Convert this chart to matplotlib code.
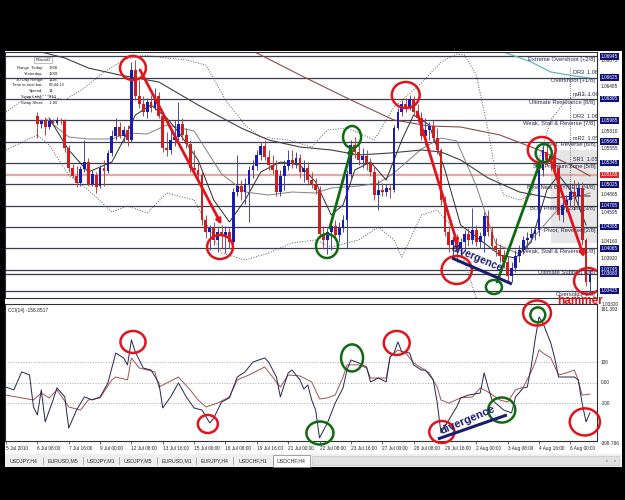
import matplotlib
matplotlib.use("Agg")
import matplotlib.pyplot as plt
import matplotlib.transforms as mtrans
from matplotlib.patches import Ellipse, Rectangle
import numpy as np

plt.rcParams["font.family"] = ["Liberation Sans", "DejaVu Sans"]

W, H = 625, 500


def fxy(x, y):
    """pixel (top-left origin) -> figure fraction"""
    return x / W, 1 - y / H


# ── H4 candles, USDCHF, bars 8..149 (bar 0 = 5 Jul 2010 00:00) ──────────
bar_idx = list(range(8, 150))
opens = [
    1.0605, 1.0593, 1.05975, 1.05885, 1.05975, 1.05945, 1.0599, 1.05975, 1.0557, 1.0527,
    1.0515, 1.05045, 1.05255, 1.0536, 1.0503, 1.05165, 1.0500, 1.0527, 1.05225, 1.05495,
    1.0575, 1.05885, 1.0575, 1.0584, 1.0569, 1.0674, 1.0635, 1.0623, 1.0611, 1.0626,
    1.0617, 1.0635, 1.0605, 1.0557, 1.0554, 1.0569, 1.05735, 1.0593, 1.05765, 1.0563,
    1.0527, 1.0524, 1.05165, 1.0449, 1.0431, 1.0437, 1.0419, 1.0431, 1.0425, 1.0431,
    1.0416, 1.0491, 1.0500, 1.0491, 1.0503, 1.0524, 1.0530, 1.05465, 1.0560, 1.05435,
    1.05315, 1.0524, 1.0491, 1.0515, 1.0530, 1.0539, 1.05345, 1.0542, 1.0521, 1.0527,
    1.0509, 1.0503, 1.0494, 1.0428, 1.0419, 1.0431, 1.0440, 1.04265, 1.0437, 1.0449,
    1.0518, 1.05615, 1.0551, 1.0539, 1.0545, 1.05345, 1.0521, 1.04865, 1.0494, 1.0491,
    1.0497, 1.0494, 1.0587, 1.0611, 1.0623, 1.0617, 1.06305, 1.0611, 1.0602, 1.0575,
    1.0584, 1.0590, 1.0572, 1.0554, 1.0479, 1.0431, 1.04115, 1.0419, 1.0407, 1.0416,
    1.0428, 1.0419, 1.0434, 1.0416, 1.0425, 1.0455, 1.0431, 1.0410, 1.0404, 1.0395,
    1.0386, 1.0365, 1.0377, 1.0395, 1.0404, 1.0419, 1.0422, 1.0428, 1.0434, 1.0524,
    1.0551, 1.0539, 1.0545, 1.0527, 1.04565, 1.04715, 1.0479, 1.0491, 1.0485, 1.0497,
    1.0419, 1.0356,
]
highs = [
    1.0611, 1.06005, 1.0602, 1.0602, 1.06005, 1.06035, 1.0602, 1.06005, 1.05615, 1.0533,
    1.0530, 1.0530, 1.0569, 1.0542, 1.0524, 1.0521, 1.05315, 1.0539, 1.0554, 1.0584,
    1.0602, 1.0596, 1.0590, 1.05915, 1.0686, 1.0689, 1.0659, 1.0635, 1.0632, 1.06365,
    1.0647, 1.0641, 1.0611, 1.0581, 1.0587, 1.0599, 1.0626, 1.0602, 1.0587, 1.0569,
    1.0554, 1.05345, 1.0521, 1.04565, 1.04415, 1.0446, 1.0437, 1.04415, 1.0440, 1.0437,
    1.0497, 1.05465, 1.0509, 1.0512, 1.0530, 1.0539, 1.0554, 1.0566, 1.0569, 1.0554,
    1.05465, 1.0539, 1.0524, 1.0539, 1.0554, 1.0554, 1.0551, 1.0548, 1.0539, 1.0536,
    1.0521, 1.0512, 1.0500, 1.0440, 1.0437, 1.0443, 1.0449, 1.0446, 1.04565, 1.0524,
    1.0569, 1.05735, 1.05615, 1.0557, 1.0554, 1.0542, 1.0530, 1.0509, 1.05045, 1.0503,
    1.05015, 1.05915, 1.0617, 1.0629, 1.0632, 1.06365, 1.0635, 1.0623, 1.0611, 1.0602,
    1.0596, 1.0599, 1.0587, 1.0557, 1.0485, 1.0440, 1.0425, 1.0428, 1.0422, 1.0434,
    1.0437, 1.0467, 1.04415, 1.0431, 1.0461, 1.0464, 1.0440, 1.0422, 1.0413, 1.0404,
    1.0395, 1.0386, 1.0404, 1.04115, 1.0425, 1.0431, 1.0437, 1.0440, 1.05315, 1.05615,
    1.05645, 1.0554, 1.0554, 1.05315, 1.0479, 1.04865, 1.05015, 1.0509, 1.0506, 1.0506,
    1.0422, 1.0374,
]
lows = [
    1.0572, 1.0587, 1.05765, 1.05855, 1.05915, 1.05915, 1.0593, 1.0551, 1.0521, 1.0512,
    1.04985, 1.0500, 1.0521, 1.0500, 1.0500, 1.04895, 1.0497, 1.0500, 1.05195, 1.0545,
    1.0569, 1.0572, 1.0566, 1.0560, 1.0566, 1.0629, 1.0617, 1.0605, 1.0602, 1.0611,
    1.0614, 1.0602, 1.0551, 1.0545, 1.0548, 1.0560, 1.0569, 1.0569, 1.0557, 1.0521,
    1.05165, 1.0509, 1.04415, 1.0422, 1.0404, 1.04115, 1.0401, 1.0407, 1.03995, 1.0407,
    1.0413, 1.0485, 1.0479, 1.0473, 1.0446, 1.0512, 1.0524, 1.0539, 1.0539, 1.0524,
    1.0518, 1.0485, 1.0485, 1.0494, 1.0524, 1.0527, 1.0527, 1.0512, 1.0506, 1.05015,
    1.0497, 1.0488, 1.0422, 1.0407, 1.0398, 1.0404, 1.0419, 1.0416, 1.0431, 1.0407,
    1.0512, 1.0542, 1.05315, 1.0527, 1.0524, 1.0515, 1.0479, 1.0464, 1.0485, 1.0485,
    1.0482, 1.0491, 1.0584, 1.0605, 1.0611, 1.0614, 1.0605, 1.0596, 1.0569, 1.05615,
    1.0569, 1.0566, 1.0548, 1.04715, 1.0425, 1.0401, 1.0392, 1.0386, 1.0395, 1.0404,
    1.0410, 1.0413, 1.0410, 1.0407, 1.0401, 1.0425, 1.0404, 1.0395, 1.0386, 1.0377,
    1.0356, 1.0356, 1.0371, 1.0386, 1.0398, 1.0407, 1.0416, 1.0419, 1.0425, 1.0515,
    1.05315, 1.0524, 1.0521, 1.0449, 1.0446, 1.0461, 1.0470, 1.0464, 1.04715, 1.04115,
    1.0350, 1.0341,
]
closes = [
    1.0593, 1.05975, 1.05885, 1.05975, 1.05945, 1.0599, 1.05975, 1.0557, 1.0527, 1.0515,
    1.05045, 1.05255, 1.0536, 1.0503, 1.0518, 1.04985, 1.0527, 1.05225, 1.05495, 1.0575,
    1.05885, 1.0575, 1.0584, 1.0569, 1.0674, 1.0635, 1.0623, 1.0611, 1.0626, 1.0617,
    1.0635, 1.0605, 1.0557, 1.0554, 1.0569, 1.05735, 1.0593, 1.05765, 1.0563, 1.0527,
    1.0524, 1.05165, 1.0449, 1.0431, 1.0437, 1.0419, 1.0431, 1.0425, 1.0431, 1.0416,
    1.0491, 1.0500, 1.0491, 1.0503, 1.0524, 1.0530, 1.05465, 1.0560, 1.05435, 1.05315,
    1.0524, 1.0491, 1.0515, 1.0530, 1.0539, 1.05345, 1.0542, 1.0521, 1.0527, 1.0509,
    1.0503, 1.0494, 1.0428, 1.0419, 1.0431, 1.0440, 1.04265, 1.0437, 1.0449, 1.0518,
    1.05615, 1.0551, 1.0539, 1.0545, 1.05345, 1.0521, 1.04865, 1.0494, 1.0491, 1.0497,
    1.0494, 1.0587, 1.0611, 1.0623, 1.0617, 1.06305, 1.0611, 1.0602, 1.0575, 1.0584,
    1.0590, 1.0572, 1.0554, 1.0479, 1.0431, 1.04115, 1.0419, 1.0407, 1.0416, 1.0428,
    1.0419, 1.0434, 1.0416, 1.0425, 1.0455, 1.0431, 1.0410, 1.0404, 1.0395, 1.0386,
    1.0365, 1.0377, 1.0395, 1.0404, 1.0419, 1.0422, 1.0428, 1.0434, 1.0524, 1.0554,
    1.0539, 1.0545, 1.0527, 1.04565, 1.04715, 1.0479, 1.0491, 1.0485, 1.0497, 1.0419,
    1.0356, 1.0368,
]

# ── indicator lines (bar, price) ──────────────────────────────────────────
bb_up_bars = [0, 5, 10, 15, 20, 25, 30, 35, 41, 46, 51, 56, 61, 65, 72, 78, 82, 87, 94, 99,
              106, 111, 115, 117, 120, 123, 125, 127, 131, 134, 136, 139, 143, 146, 149]
bb_up = [1.0611, 1.0632, 1.06365, 1.0629, 1.0647, 1.0671, 1.0689, 1.06965, 1.0692, 1.0689,
         1.06815, 1.0629, 1.05915, 1.05735, 1.0569, 1.05585, 1.0584, 1.0587, 1.0569, 1.06185,
         1.06545, 1.0686, 1.0698, 1.06965, 1.06665, 1.0584, 1.05165, 1.04865, 1.0479, 1.04865,
         1.0539, 1.0599, 1.0629, 1.06365, 1.06365]
bb_lo_bars = [0, 8, 11, 16, 21, 27, 31, 36, 41, 48, 55, 61, 67, 73, 79, 83, 90, 95, 99, 101,
              106, 110, 114, 117, 120, 123, 128, 133, 138, 143, 149]
bb_lo = [1.0554, 1.05765, 1.05615, 1.05165, 1.0494, 1.0461, 1.0470, 1.04595, 1.04895, 1.0479,
         1.03995, 1.0389, 1.03995, 1.04145, 1.0419, 1.04085, 1.0419, 1.04385, 1.0419, 1.03935,
         1.04565, 1.0464, 1.0437, 1.0386, 1.0332, 1.03065, 1.0314, 1.0329, 1.03215, 1.0329,
         1.0341]
bb_mid_bars = [10, 16, 21, 27, 31, 36, 41, 48, 55, 61, 67, 73, 79, 83, 90, 95, 99, 106, 111,
               115, 120, 125, 131, 136, 143, 149]
bb_mid = [1.0602, 1.05735, 1.05705, 1.05705, 1.05795, 1.0578, 1.05915, 1.05825, 1.0518,
          1.0491, 1.04865, 1.0491, 1.04895, 1.0497, 1.0500, 1.05045, 1.05195, 1.05555, 1.0572,
          1.05675, 1.0500, 1.0413, 1.0398, 1.04325, 1.0479, 1.04895]
ma_fast_bars = [11, 16, 21, 27, 30, 33, 37, 41, 44, 49, 53, 57, 61, 65, 70, 75, 79, 83, 86,
                89, 93, 97, 101, 104, 108, 112, 116, 121, 126, 130, 134, 138, 141, 145, 148]
ma_fast = [1.0602, 1.0554, 1.0521, 1.0536, 1.0569, 1.06065, 1.06215, 1.0602, 1.0581, 1.0539,
           1.0479, 1.0446, 1.0479, 1.0521, 1.0536, 1.05315, 1.0506, 1.04565, 1.04715, 1.0524,
           1.0536, 1.0509, 1.0569, 1.06065, 1.05915, 1.0524, 1.04415, 1.0419, 1.03965, 1.0392,
           1.0416, 1.0494, 1.05165, 1.04865, 1.04415]
ma_slow_bars = [9, 15, 21, 29, 39, 49, 60, 67, 75, 83, 90, 98, 106, 111, 116, 123, 131, 139,
                145, 149]
ma_slow = [1.0701, 1.0692, 1.0677, 1.06665, 1.0656, 1.06215, 1.0587, 1.0569, 1.05585, 1.0554,
           1.05465, 1.05495, 1.0554, 1.0551, 1.0539, 1.0512, 1.0491, 1.0482, 1.0485, 1.0485]
ma_long_bars = [49, 64, 75, 88, 99, 108, 116, 126, 136, 144, 149]
ma_long = [1.0734, 1.06995, 1.06665, 1.0629, 1.0599, 1.0590, 1.05885, 1.05765, 1.0554,
           1.05315, 1.0515]
teal_bars = [121, 127, 134, 139, 145, 149]
teal_vals = [1.0719, 1.0701, 1.0686, 1.0671, 1.0665, 1.0662]

# ── Murrey math levels / pivots ───────────────────────────────────────────
mm_levels = [1.03425, 1.03745, 1.04065, 1.04385, 1.04705, 1.05025, 1.05345, 1.05665,
             1.05985, 1.06305, 1.06625, 1.06945]
mm_names = ["Oversold [-1/8]", "Ultimate Support [0/8]", "Weak, Stall & Reverse [1/8]",
            "Pivot, Reverse [2/8]", "BUY Premium Zone [3/8]", "Best New BUY/SELL [4/8]",
            "Sell Premium Zone [5/8]", "Pivot, Reverse [6/8]", "Weak, Stall & Reverse [7/8]",
            "Ultimate Resistance [8/8]", "Overshoot [+1/8]", "Extreme Overshoot [+2/8]"]
pink_level = 1.05165
extra_level = 1.0368
pivot_names = ["DR3", "mR3", "DR2", "mR2", "SR1"]
pivot_vals = ["1.06", "1.06", "1.06", "1.05", "1.05"]
pivot_prices = [1.06695, 1.06365, 1.06035, 1.0572, 1.0539]
plain_prices = [1.06875, 1.06485, 1.0581, 1.05555, 1.04865, 1.04595, 1.0416, 1.0392]

# ── CCI(14) and its signal (bar, value) ───────────────────────────────────
cci_bars = [0, 2, 4, 6, 7, 8, 9, 10, 12, 13, 15, 16, 18, 20, 22, 24, 26, 28, 30, 31,
            32, 33, 35, 37, 39, 40, 42, 44, 46, 48, 50, 52, 53, 55, 57, 59, 61, 63, 66, 67,
            69, 70, 72, 73, 75, 76, 77, 78, 79, 80, 82, 84, 86, 87, 88, 90, 92, 93, 95, 96,
            97, 98, 99, 100, 101, 103, 104, 106, 107, 109, 110, 111, 113, 115, 116, 118, 121,
            122, 123, 124, 127, 129, 130, 132, 133, 134, 135, 136, 137, 139, 140, 141, 143,
            145, 146, 147, 148, 149]
cci_vals = [-20, -34, 54, 39, -117, -156, -34, -190, -83, -24, -68, -220, -132, -68, -83, -68,
            0, 146, 122, 88, 210, 151, 73, 63, 0, -122, -68, 0, -68, -122, -132, -195, -171,
            -93, -73, 29, 54, 102, 122, 102, 29, -68, 49, 63, 15, -30, -10, -83, -132, -268,
            -195, -98, -24, 63, 112, 98, 78, 5, 24, 15, 5, 127, 146, 200, 151, 146, 88, 63, 63,
            15, -93, -244, -180, -117, -73, -59, -49, 49, -20, -83, -132, -146, -68, -24, -20,
            78, 210, 322, 293, 195, 122, 29, 29, 29, 15, -98, -190, -146]
sig_bars = [0, 4, 7, 9, 11, 13, 16, 19, 21, 24, 27, 28, 31, 32, 34, 38, 39, 44, 47, 49,
            51, 54, 57, 59, 62, 66, 67, 70, 72, 75, 78, 80, 82, 84, 86, 87, 90, 92, 93, 97,
            98, 100, 102, 104, 106, 108, 110, 111, 113, 116, 119, 121, 123, 126, 128, 130,
            132, 134, 135, 136, 137, 139, 141, 143, 145, 146, 147, 149]
sig_vals = [-59, -73, -83, -49, -73, -34, -117, -132, -83, -73, 15, 29, 15, 122, 73, 54, -20,
            29, -34, -83, -117, -98, -68, 15, 39, 78, 54, -20, 39, 34, 5, -78, -73, -59, 29,
            88, 88, 73, 24, 24, 127, 161, 146, 98, 73, 49, -20, -83, -98, -73, -68, -24, -44,
            -83, -93, -34, -20, 54, 98, 161, 146, 122, 39, 49, 63, 15, -59, -54]

tick_bars = [0, 8, 16, 24, 32, 40, 48, 56, 64, 72, 80, 88, 96, 104, 112, 120, 128, 136, 144]
tick_labels = ["5 Jul 2010", "6 Jul 08:00", "7 Jul 16:00", "9 Jul 00:00", "12 Jul 08:00",
               "13 Jul 16:00", "15 Jul 00:00", "16 Jul 08:00", "19 Jul 16:00", "21 Jul 00:00",
               "22 Jul 08:00", "23 Jul 16:00", "27 Jul 00:00", "28 Jul 08:00", "29 Jul 16:00",
               "2 Aug 00:00", "3 Aug 08:00", "4 Aug 16:00", "6 Aug 00:00"]

tabs = ["USDJPY,H4", "EURUSD,M5", "USDJPY,M1", "USDJPY,M5", "EURUSD,M1", "EURJPY,H4",
        "USDCHF,H1", "USDCHF,H4"]
info_labels = ["Range  Today:", "Yesterday:", "30 Day Range:", "Time to next bar:",
               "Spread:", "Swap Long:", "Swap Short:"]
info_values = ["1768", "1289", "1118", "03:44:13", "14", "0.10", "-1.00"]

RED = "#e0141c"
GREEN = "#0f6a12"
NAVY = "#1c1c6e"
BULL, BEAR = "#1b1bb0", "#d01e1e"

# ── figure / window ───────────────────────────────────────────────────────
fig = plt.figure(figsize=(6.25, 5), dpi=100, facecolor="black")
fig.patches.append(Rectangle(fxy(5, 454), 617 / W, 403 / H, transform=fig.transFigure,
                             fc="white", ec="none", zorder=-5))
fig.patches.append(Rectangle(fxy(5, 467), 617 / W, 13 / H, transform=fig.transFigure,
                             fc="#efefef", ec="none", zorder=-5))

ax = fig.add_axes([5 / W, 1 - 298 / H, 592 / W, 246 / H])
ax2 = fig.add_axes([5 / W, 1 - 441 / H, 592 / W, 137 / H])
for a in (ax, ax2):
    a.set_facecolor("white")
    a.set_xlim(-0.26, 150.8)
    for s in a.spines.values():
        s.set_color("#303030")
        s.set_linewidth(0.8)
ax.set_ylim(1.0332, 1.0701)
ax.set_xticks([])
ax.set_yticks([])

# ── main price panel ──────────────────────────────────────────────────────
ax.add_patch(Rectangle((139, 1.04145), 12, 0.01395, fc="#e6e6e6", ec="none", zorder=0))
for lv in mm_levels:
    ax.axhline(lv, color="#3c3c50", lw=0.9, zorder=1)
ax.axhline(extra_level, color="#3c3c50", lw=0.9, zorder=1)
ax.axhline(pink_level, color="#e4a8a8", lw=1.6, zorder=1)

ax.plot(bb_up_bars, bb_up, ls=":", color="#555555", lw=0.7, zorder=2)
ax.plot(bb_lo_bars, bb_lo, ls=":", color="#555555", lw=0.7, zorder=2)
ax.plot(bb_mid_bars, bb_mid, color="#808080", lw=0.7, zorder=2)
ax.plot(ma_fast_bars, ma_fast, color="#2a2a2a", lw=0.7, zorder=2)
ax.plot(ma_slow_bars, ma_slow, color="#404040", lw=0.8, zorder=2)
ax.plot(ma_long_bars, ma_long, color="#8f4a4a", lw=0.8, zorder=2)
ax.plot(teal_bars, teal_vals, color="#62b8b2", lw=0.9, zorder=2)

x = np.array(bar_idx)
o, h, l, c = map(np.array, (opens, highs, lows, closes))
up = c >= o
ax.vlines(x, l, h, colors=np.where(up, "#4a4aa0", "#b04848"), lw=0.7, zorder=3)
ax.bar(x, np.maximum(np.abs(c - o), 0.00005), bottom=np.minimum(o, c), width=0.72,
       color=np.where(up, BULL, BEAR), lw=0, zorder=4)

# Murrey names and pivot tags
for lv, name in zip(mm_levels, mm_names):
    ax.text(0.997, lv - 0.0001, name, transform=mtrans.blended_transform_factory(
        ax.transAxes, ax.transData), ha="right", va="top", fontsize=4.2, color="#2a2a48",
        zorder=6)
for nm, val, pr in zip(pivot_names, pivot_vals, pivot_prices):
    ax.text(144.6, pr, f"{nm}  {val}", ha="left", va="center", fontsize=4.0,
            color="#2a2a48", zorder=6)
ax.plot([144, 144], [1.0677, 1.04715], ls=":", color="#505050", lw=0.6, zorder=2)

# right price scale
tr = mtrans.blended_transform_factory(ax.transAxes, ax.transData)
for lv in mm_levels + [extra_level]:
    ax.text(1.006, lv, f"{lv:.5f}", transform=tr, fontsize=3.4, color="white", va="center",
            ha="left", clip_on=False,
            bbox=dict(boxstyle="square,pad=0.2", fc="#10107a", ec="none"))
ax.text(1.006, pink_level, f"{pink_level:.5f}", transform=tr, fontsize=3.4, color="white",
        va="center", ha="left", clip_on=False,
        bbox=dict(boxstyle="square,pad=0.2", fc="#d42a2a", ec="none"))
for pr in plain_prices:
    ax.text(1.006, pr, f"{pr:.5f}", transform=tr, fontsize=3.4, color="#202020",
            va="center", ha="left", clip_on=False)
fig.text(*fxy(602, 304), "1.03320", fontsize=3.4, color="#202020", va="center")

# drawn annotations on price chart
for cx, cy, w, hh in [(32.4, 1.0677, 6.6, 0.0036), (54.6, 1.04085, 6.6, 0.0036),
                      (102, 1.06365, 7.1, 0.0039), (115, 1.0374, 7.7, 0.0042),
                      (136.7, 1.0554, 7.1, 0.0039), (148.5, 1.03575, 7.1, 0.0039)]:
    ax.add_patch(Ellipse((cx, cy), w, hh, fill=False, ec=RED, lw=1.8, zorder=7))
for cx, cy, w, hh in [(81.9, 1.0410, 5.6, 0.0036), (88.3, 1.05735, 4.6, 0.0033),
                      (124.5, 1.03485, 4.1, 0.0021), (137.2, 1.05495, 4.1, 0.0027)]:
    ax.add_patch(Ellipse((cx, cy), w, hh, fill=False, ec=GREEN, lw=1.8, zorder=7))
for (x0, y0), (x1, y1) in [((34.2, 1.0674), (55.0, 1.0442)),
                           ((104.9, 1.0611), (115.3, 1.0411)),
                           ((139.0, 1.0539), (147.5, 1.0393))]:
    ax.annotate("", xy=(x1, y1), xytext=(x0, y0), zorder=7,
                arrowprops=dict(arrowstyle="-|>", color=RED, lw=2.0, mutation_scale=7,
                                shrinkA=0, shrinkB=0))
for (x0, y0), (x1, y1) in [((82.6, 1.0437), (88.3, 1.05585)),
                           ((125.3, 1.0356), (136.5, 1.0539))]:
    ax.annotate("", xy=(x1, y1), xytext=(x0, y0), zorder=7,
                arrowprops=dict(arrowstyle="-|>", color=GREEN, lw=2.0, mutation_scale=7,
                                shrinkA=0, shrinkB=0))
ax.text(120.2, 1.03925, "divergence", rotation=-23, ha="center", va="center",
        rotation_mode="anchor", fontsize=7.5, fontweight="bold", color=NAVY, zorder=8)
ax.plot([113.8, 129.1], [1.0392, 1.0353], color=NAVY, lw=2.2, zorder=8,
        solid_capstyle="butt")

# info panel (top-left)
fig.text(*fxy(43, 60), "PivotsD", fontsize=3.2, ha="center", va="center", color="#202020",
         bbox=dict(boxstyle="square,pad=0.3", fc="white", ec="#909090", lw=0.4))
for k, (lab, val) in enumerate(zip(info_labels, info_values)):
    yy = 68 + 5.8 * k
    fig.text(*fxy(43, yy), lab, fontsize=3.0, ha="right", va="center", color="#202020")
    fig.text(*fxy(49, yy), val, fontsize=3.0, ha="left", va="center", color="#202020")

# ── CCI panel ─────────────────────────────────────────────────────────────
ax2.set_ylim(-283, 385)
ax2.set_yticks([])
for lv in (100, 0, -100):
    ax2.axhline(lv, ls=":", color="#a8a8a8", lw=0.7, zorder=1)
ax2.plot(sig_bars, sig_vals, color="#a05252", lw=0.7, zorder=2)
ax2.plot(cci_bars, cci_vals, color="#25254c", lw=0.7, zorder=3)
ax2.set_xticks(tick_bars)
ax2.set_xticklabels(tick_labels, ha="left", fontsize=3.4, color="#202020")
ax2.tick_params(axis="x", length=2, width=0.5, pad=1.5, color="#303030")
ax2.text(0.005, 0.955, "CCI(14) -158.8517", transform=ax2.transAxes, fontsize=3.4,
         va="center", color="#202020")

tr2 = mtrans.blended_transform_factory(ax2.transAxes, ax2.transData)
for v, s in [(356, "161.393"), (100, "100"), (0, "0.00"), (-100, "-100"),
             (-293, "-308.786")]:
    ax2.text(1.006, v, s, transform=tr2, fontsize=3.4, color="#202020", va="center",
             ha="left", clip_on=False)

for cx, cy, w, hh in [(32.4, 200, 6.4, 107), (51.5, -200, 5.1, 88), (99.7, 195, 6.6, 117),
                      (111.2, -239, 6.4, 107), (135.5, 341, 7.1, 122),
                      (147.7, -190, 7.7, 132)]:
    ax2.add_patch(Ellipse((cx, cy), w, hh, fill=False, ec=RED, lw=1.8, zorder=7,
                          clip_on=False))
for cx, cy, w, hh in [(80.1, -244, 6.9, 112), (88.3, 122, 5.6, 132),
                      (126.5, -132, 6.9, 122), (135.7, 332, 3.8, 73)]:
    ax2.add_patch(Ellipse((cx, cy), w, hh, fill=False, ec=GREEN, lw=1.8, zorder=7,
                          clip_on=False))
ax2.text(117.9, -180, "divergence", rotation=23, ha="center", va="center",
         rotation_mode="anchor", fontsize=8, fontweight="bold", color=NAVY, zorder=8)
ax2.plot([110.2, 127.8], [-273, -156], color=NAVY, lw=2.2, zorder=8, solid_capstyle="butt")

# "hammer" label sits across the panel gap
fig.text(*fxy(580, 300.5), "hammer", fontsize=8.5, fontweight="bold", color=RED,
         ha="center", va="center", zorder=10)

# ── bottom tab strip ──────────────────────────────────────────────────────
tab_edges = [5, 43, 83, 119, 157, 196, 233, 273, 310]
for k, name in enumerate(tabs):
    x0, x1 = tab_edges[k], tab_edges[k + 1]
    if k == len(tabs) - 1:
        fig.patches.append(Rectangle(fxy(x0, 467), (x1 - x0) / W, 12 / H,
                                     transform=fig.transFigure, fc="white", ec="#808080",
                                     lw=0.5, zorder=1))
    else:
        fig.lines.append(plt.Line2D([x1 / W, x1 / W], [1 - 464 / H, 1 - 457 / H],
                                    transform=fig.transFigure, color="#909090", lw=0.5))
    fig.text(*fxy((x0 + x1) / 2, 460.5), name, fontsize=3.8, ha="center", va="center",
             color="#303030", zorder=2)
fig.patches.append(Rectangle(fxy(312, 465), 307 / W, 9 / H, transform=fig.transFigure,
                             fc="#e2e2e2", ec="#c0c0c0", lw=0.4, zorder=1))
fig.text(*fxy(607, 460.5), "‹", fontsize=4, ha="center", va="center", color="#404040")
fig.text(*fxy(615, 460.5), "›", fontsize=4, ha="center", va="center", color="#404040")

fig.savefig("out.png", dpi=100, facecolor="black")
